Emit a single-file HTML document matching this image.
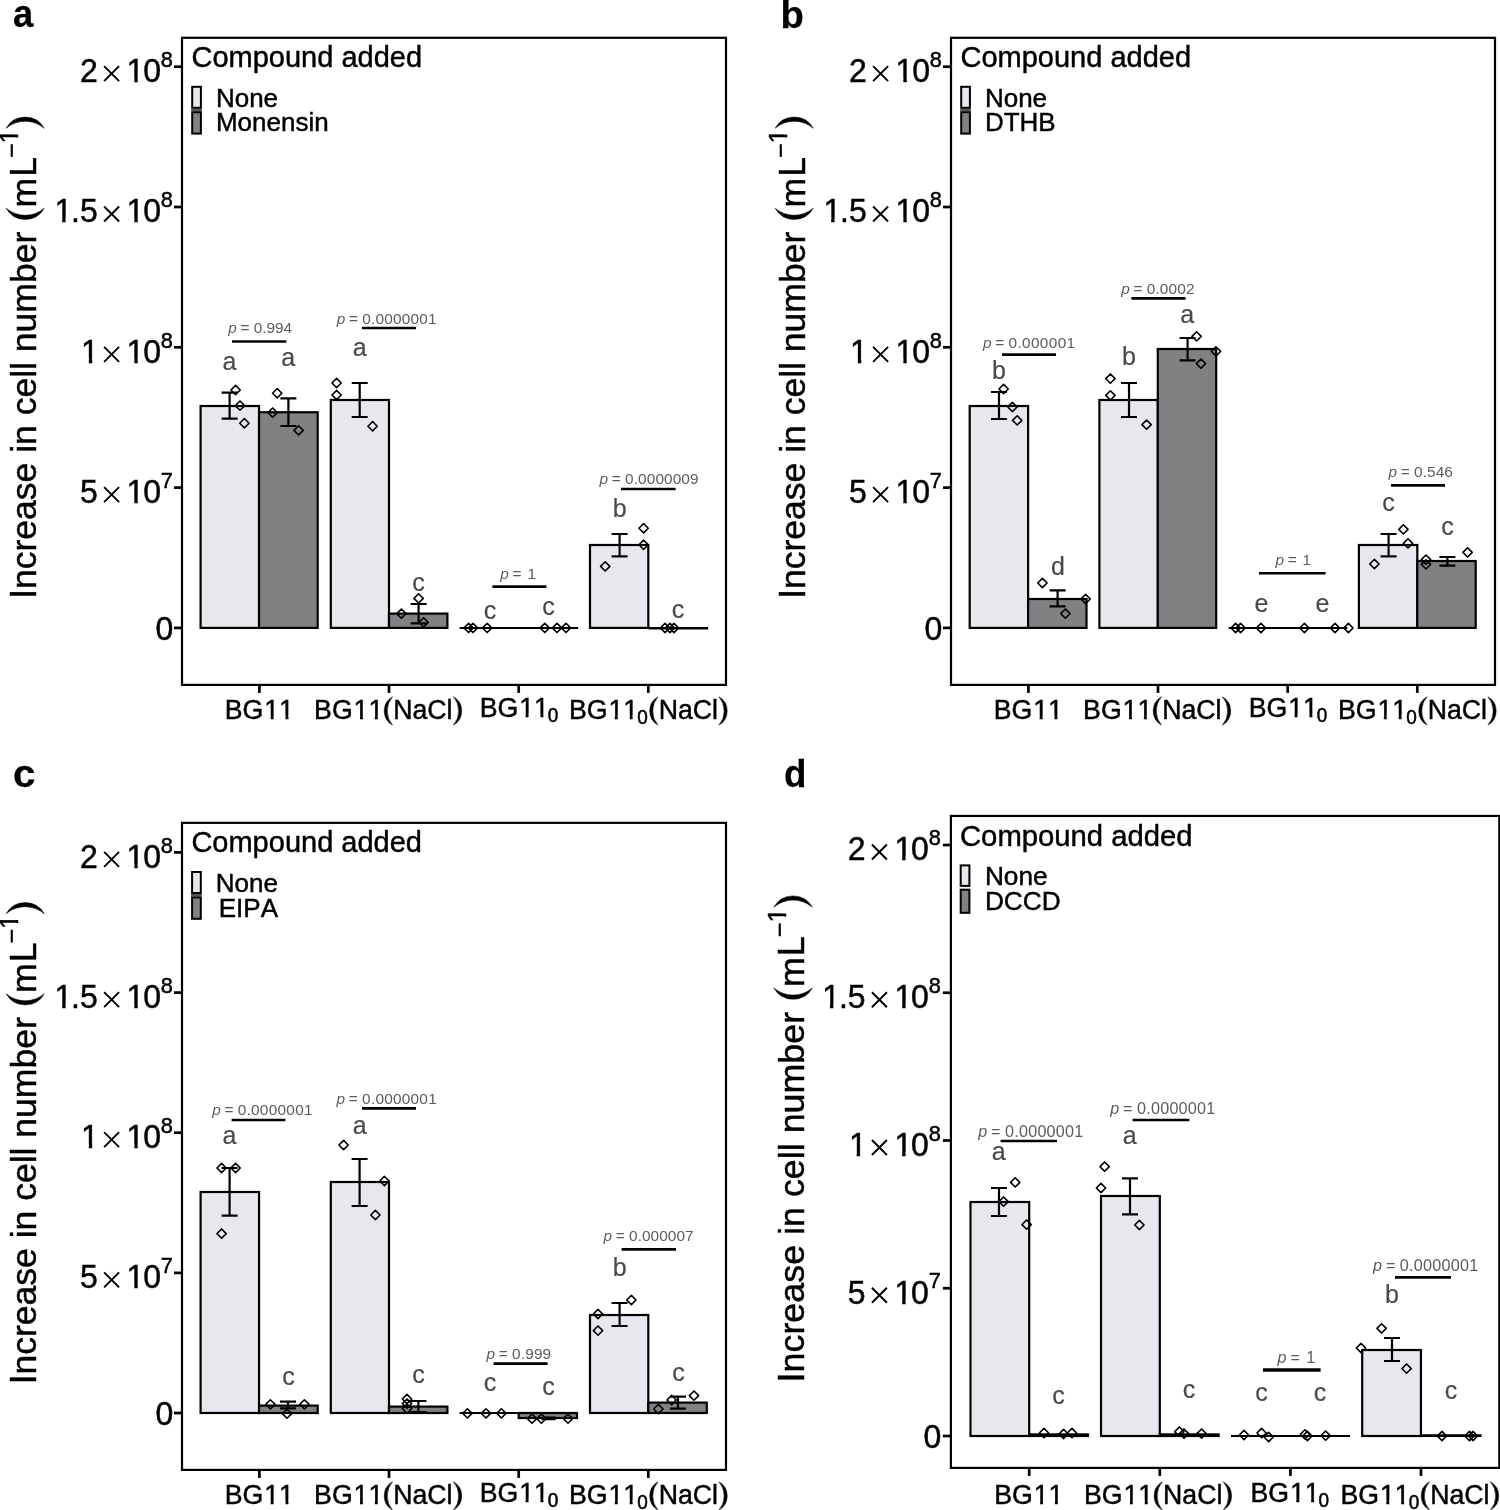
<!DOCTYPE html>
<html><head><meta charset="utf-8"><title>Figure</title>
<style>html,body{margin:0;padding:0;background:#fff}svg{display:block;will-change:transform}text{font-family:"Liberation Sans",sans-serif;font-kerning:none}</style>
</head><body>
<svg width="1500" height="1510" viewBox="0 0 1500 1510" font-family="Liberation Sans, sans-serif">
<rect width="1500" height="1510" fill="#fff"/>
<g>
<text transform="translate(13 27.2) scale(0.95 1)" font-size="38.3" font-weight="bold" stroke="#000" stroke-width="0.25">a</text>
<g transform="translate(36 598.8) rotate(-90)">
<text transform="translate(0 0) scale(1 1.05)" font-size="35.5" stroke="#000" stroke-width="0.45">I</text>
<text x="9.86" y="0" font-size="35.5" stroke="#000" stroke-width="0.45">ncrease in cell number</text>
<path d="M390.59 -29.9A21.89 21.89 0 0 0 390.59 8.3A29.34 29.34 0 0 1 390.59 -29.9Z" stroke="#000" stroke-width="0.5" stroke-linejoin="round"/>
<text x="391.4" y="0" font-size="35.5" stroke="#000" stroke-width="0.45">m</text>
<text transform="translate(422 0) scale(1 1.05)" font-size="35.5" stroke="#000" stroke-width="0.45">L</text>
<text x="441" y="-15.8" font-size="25" stroke="#000" stroke-width="0.45">−</text>
<text x="455.27" y="-17.6" font-size="25.5" stroke="#000" stroke-width="0.45">1</text>
<path d="M456.51 -15.8h4.87v-5.11h-4.87zM464.23 -15.8h4.98v-5.11h-4.98z" fill="#fff"/>
<path d="M470.5 -29.9A21.89 21.89 0 0 1 470.5 8.3A29.34 29.34 0 0 0 470.5 -29.9Z" stroke="#000" stroke-width="0.5" stroke-linejoin="round"/>
</g>
<text transform="translate(80 82.1) scale(1 1.035)" font-size="32" stroke="#000" stroke-width="0.45">2</text>
<path d="M104.1 66.2L119.1 81.2M104.1 81.2L119.1 66.2" stroke="#000" stroke-width="1.9" fill="none"/>
<text transform="translate(126.59 82.1) scale(1 1.035)" font-size="32" stroke="#000" stroke-width="0.45">1</text>
<path d="M128.15 83.9h6.18v-5.67h-6.18zM137.76 83.9h6.25v-5.67h-6.25z" fill="#fff"/>
<text transform="translate(143.3 82.1) scale(1 1.035)" font-size="32" stroke="#000" stroke-width="0.45">0</text>
<text transform="translate(173 66.9) scale(1 1.035)" font-size="21.8" text-anchor="end" stroke="#000" stroke-width="0.45">8</text>
<text transform="translate(54.4 222.4) scale(1 1.035)" font-size="32" stroke="#000" stroke-width="0.45">1</text>
<path d="M55.97 224.2h6.18v-5.67h-6.18zM65.58 224.2h6.25v-5.67h-6.25z" fill="#fff"/>
<text transform="translate(71.11 222.4) scale(1 1.035)" font-size="32" stroke="#000" stroke-width="0.45">.5</text>
<path d="M104.1 206.5L119.1 221.5M104.1 221.5L119.1 206.5" stroke="#000" stroke-width="1.9" fill="none"/>
<text transform="translate(126.59 222.4) scale(1 1.035)" font-size="32" stroke="#000" stroke-width="0.45">1</text>
<path d="M128.15 224.2h6.18v-5.67h-6.18zM137.76 224.2h6.25v-5.67h-6.25z" fill="#fff"/>
<text transform="translate(143.3 222.4) scale(1 1.035)" font-size="32" stroke="#000" stroke-width="0.45">0</text>
<text transform="translate(173 207.2) scale(1 1.035)" font-size="21.8" text-anchor="end" stroke="#000" stroke-width="0.45">8</text>
<text transform="translate(81.09 362.7) scale(1 1.035)" font-size="32" stroke="#000" stroke-width="0.45">1</text>
<path d="M82.65 364.5h6.18v-5.67h-6.18zM92.27 364.5h6.25v-5.67h-6.25z" fill="#fff"/>
<path d="M104.1 346.8L119.1 361.8M104.1 361.8L119.1 346.8" stroke="#000" stroke-width="1.9" fill="none"/>
<text transform="translate(126.59 362.7) scale(1 1.035)" font-size="32" stroke="#000" stroke-width="0.45">1</text>
<path d="M128.15 364.5h6.18v-5.67h-6.18zM137.76 364.5h6.25v-5.67h-6.25z" fill="#fff"/>
<text transform="translate(143.3 362.7) scale(1 1.035)" font-size="32" stroke="#000" stroke-width="0.45">0</text>
<text transform="translate(173 347.5) scale(1 1.035)" font-size="21.8" text-anchor="end" stroke="#000" stroke-width="0.45">8</text>
<text transform="translate(80 503) scale(1 1.035)" font-size="32" stroke="#000" stroke-width="0.45">5</text>
<path d="M104.1 487.1L119.1 502.1M104.1 502.1L119.1 487.1" stroke="#000" stroke-width="1.9" fill="none"/>
<text transform="translate(126.59 503) scale(1 1.035)" font-size="32" stroke="#000" stroke-width="0.45">1</text>
<path d="M128.15 504.8h6.18v-5.67h-6.18zM137.76 504.8h6.25v-5.67h-6.25z" fill="#fff"/>
<text transform="translate(143.3 503) scale(1 1.035)" font-size="32" stroke="#000" stroke-width="0.45">0</text>
<text transform="translate(173 487.8) scale(1 1.035)" font-size="21.8" text-anchor="end" stroke="#000" stroke-width="0.45">7</text>
<text transform="translate(173.4 639.5) scale(1 1.035)" font-size="32" text-anchor="end" stroke="#000" stroke-width="0.45">0</text>
<rect x="200.6" y="406" width="58.45" height="221.9" fill="#e8e7ee" stroke="#000" stroke-width="2.2"/>
<rect x="259.05" y="412.25" width="58.65" height="215.65" fill="#808183" stroke="#000" stroke-width="2.2"/>
<rect x="330.8" y="400" width="58.2" height="227.9" fill="#e8e7ee" stroke="#000" stroke-width="2.2"/>
<rect x="389" y="613.6" width="58.4" height="14.3" fill="#808183" stroke="#000" stroke-width="2.2"/>
<rect x="590" y="545" width="58.3" height="82.9" fill="#e8e7ee" stroke="#000" stroke-width="2.2"/>
<line x1="459.6" y1="627.9" x2="578.2" y2="627.9" stroke="#000" stroke-width="2"/>
<line x1="648.6" y1="628.2" x2="708.2" y2="628.2" stroke="#000" stroke-width="2.6"/>
<path d="M221.6 392.6H237.6M221.6 418.6H237.6M229.6 392.6V418.6" fill="none" stroke="#000" stroke-width="2.2"/>
<path d="M280.4 398.4H296.4M280.4 426H296.4M288.4 398.4V426" fill="none" stroke="#000" stroke-width="2.2"/>
<path d="M351.7 383H367.7M351.7 417H367.7M359.7 383V417" fill="none" stroke="#000" stroke-width="2.2"/>
<path d="M410.6 604H426.6M410.6 623.4H426.6M418.6 604V623.4" fill="none" stroke="#000" stroke-width="2.2"/>
<path d="M611.6 534H627.6M611.6 556.4H627.6M619.6 534V556.4" fill="none" stroke="#000" stroke-width="2.2"/>
<path d="M235.6 385.35L240.25 390L235.6 394.65L230.95 390Z" fill="none" stroke="#000" stroke-width="1.6" stroke-linejoin="round"/>
<path d="M240 400.95L244.65 405.6L240 410.25L235.35 405.6Z" fill="none" stroke="#000" stroke-width="1.6" stroke-linejoin="round"/>
<path d="M244.4 418.55L249.05 423.2L244.4 427.85L239.75 423.2Z" fill="none" stroke="#000" stroke-width="1.6" stroke-linejoin="round"/>
<path d="M277.2 388.55L281.85 393.2L277.2 397.85L272.55 393.2Z" fill="none" stroke="#000" stroke-width="1.6" stroke-linejoin="round"/>
<path d="M272.6 407.95L277.25 412.6L272.6 417.25L267.95 412.6Z" fill="none" stroke="#000" stroke-width="1.6" stroke-linejoin="round"/>
<path d="M298.6 425.75L303.25 430.4L298.6 435.05L293.95 430.4Z" fill="none" stroke="#000" stroke-width="1.6" stroke-linejoin="round"/>
<path d="M336.6 378.35L341.25 383L336.6 387.65L331.95 383Z" fill="none" stroke="#000" stroke-width="1.6" stroke-linejoin="round"/>
<path d="M336.6 390.35L341.25 395L336.6 399.65L331.95 395Z" fill="none" stroke="#000" stroke-width="1.6" stroke-linejoin="round"/>
<path d="M372.6 421.55L377.25 426.2L372.6 430.85L367.95 426.2Z" fill="none" stroke="#000" stroke-width="1.6" stroke-linejoin="round"/>
<path d="M401.4 608.95L406.05 613.6L401.4 618.25L396.75 613.6Z" fill="none" stroke="#000" stroke-width="1.6" stroke-linejoin="round"/>
<path d="M418.6 593.75L423.25 598.4L418.6 603.05L413.95 598.4Z" fill="none" stroke="#000" stroke-width="1.6" stroke-linejoin="round"/>
<path d="M423.6 617.75L428.25 622.4L423.6 627.05L418.95 622.4Z" fill="none" stroke="#000" stroke-width="1.6" stroke-linejoin="round"/>
<path d="M468.6 623.25L473.25 627.9L468.6 632.55L463.95 627.9Z" fill="none" stroke="#000" stroke-width="1.6" stroke-linejoin="round"/>
<path d="M473 623.25L477.65 627.9L473 632.55L468.35 627.9Z" fill="none" stroke="#000" stroke-width="1.6" stroke-linejoin="round"/>
<path d="M487.2 623.25L491.85 627.9L487.2 632.55L482.55 627.9Z" fill="none" stroke="#000" stroke-width="1.6" stroke-linejoin="round"/>
<path d="M544.8 623.25L549.45 627.9L544.8 632.55L540.15 627.9Z" fill="none" stroke="#000" stroke-width="1.6" stroke-linejoin="round"/>
<path d="M557 623.25L561.65 627.9L557 632.55L552.35 627.9Z" fill="none" stroke="#000" stroke-width="1.6" stroke-linejoin="round"/>
<path d="M566 623.25L570.65 627.9L566 632.55L561.35 627.9Z" fill="none" stroke="#000" stroke-width="1.6" stroke-linejoin="round"/>
<path d="M643.6 523.55L648.25 528.2L643.6 532.85L638.95 528.2Z" fill="none" stroke="#000" stroke-width="1.6" stroke-linejoin="round"/>
<path d="M643.6 540.15L648.25 544.8L643.6 549.45L638.95 544.8Z" fill="none" stroke="#000" stroke-width="1.6" stroke-linejoin="round"/>
<path d="M605.2 561.75L609.85 566.4L605.2 571.05L600.55 566.4Z" fill="none" stroke="#000" stroke-width="1.6" stroke-linejoin="round"/>
<path d="M665 623.35L669.65 628L665 632.65L660.35 628Z" fill="none" stroke="#000" stroke-width="1.6" stroke-linejoin="round"/>
<path d="M670 623.35L674.65 628L670 632.65L665.35 628Z" fill="none" stroke="#000" stroke-width="1.6" stroke-linejoin="round"/>
<path d="M674 623.35L678.65 628L674 632.65L669.35 628Z" fill="none" stroke="#000" stroke-width="1.6" stroke-linejoin="round"/>
<text x="229.5" y="370.3" font-size="25" text-anchor="middle" fill="#4a4a4a" stroke="#4a4a4a" stroke-width="0.2">a</text>
<text x="288.2" y="366.4" font-size="25" text-anchor="middle" fill="#4a4a4a" stroke="#4a4a4a" stroke-width="0.2">a</text>
<text x="359.6" y="355.5" font-size="25" text-anchor="middle" fill="#4a4a4a" stroke="#4a4a4a" stroke-width="0.2">a</text>
<text x="418.6" y="591.3" font-size="25" text-anchor="middle" fill="#4a4a4a" stroke="#4a4a4a" stroke-width="0.2">c</text>
<text x="490" y="618.9" font-size="25" text-anchor="middle" fill="#4a4a4a" stroke="#4a4a4a" stroke-width="0.2">c</text>
<text x="548.4" y="614.9" font-size="25" text-anchor="middle" fill="#4a4a4a" stroke="#4a4a4a" stroke-width="0.2">c</text>
<text x="619.6" y="516.9" font-size="25" text-anchor="middle" fill="#4a4a4a" stroke="#4a4a4a" stroke-width="0.2">b</text>
<text x="678" y="617.9" font-size="25" text-anchor="middle" fill="#4a4a4a" stroke="#4a4a4a" stroke-width="0.2">c</text>
<text y="333" font-size="15.4" fill="#5c5c5c"><tspan x="228.28" font-style="italic">p</tspan><tspan x="240.55">=</tspan>
<tspan x="253.8" textLength="38.25" lengthAdjust="spacing">0.994</tspan></text>
<text y="323.7" font-size="15.4" fill="#5c5c5c"><tspan x="336.68" font-style="italic">p</tspan><tspan x="348.95">=</tspan>
<tspan x="362.2" textLength="74.43" lengthAdjust="spacing">0.0000001</tspan></text>
<text y="579.4" font-size="15.4" fill="#5c5c5c"><tspan x="500.18" font-style="italic">p</tspan><tspan x="512.45">=</tspan>
<tspan x="527.57">1</tspan></text>
<text y="483.6" font-size="15.4" fill="#5c5c5c"><tspan x="599.58" font-style="italic">p</tspan><tspan x="611.85">=</tspan>
<tspan x="625.1" textLength="73.43" lengthAdjust="spacing">0.0000009</tspan></text>
<line x1="232" y1="341.5" x2="286.3" y2="341.5" stroke="#000" stroke-width="2.6"/>
<line x1="361.9" y1="328" x2="416" y2="328" stroke="#000" stroke-width="2.6"/>
<line x1="492.4" y1="586.6" x2="546.4" y2="586.6" stroke="#000" stroke-width="2.6"/>
<line x1="621" y1="489" x2="675.6" y2="489" stroke="#000" stroke-width="2.6"/>
<rect x="182" y="37.8" width="544" height="647.1" fill="none" stroke="#000" stroke-width="2.2"/>
<line x1="174" y1="66.7" x2="182" y2="66.7" stroke="#000" stroke-width="2.7"/>
<line x1="174" y1="207" x2="182" y2="207" stroke="#000" stroke-width="2.7"/>
<line x1="174" y1="347.3" x2="182" y2="347.3" stroke="#000" stroke-width="2.7"/>
<line x1="174" y1="487.6" x2="182" y2="487.6" stroke="#000" stroke-width="2.7"/>
<line x1="174" y1="627.9" x2="182" y2="627.9" stroke="#000" stroke-width="2.7"/>
<line x1="259.4" y1="684.9" x2="259.4" y2="692.9" stroke="#000" stroke-width="2.7"/>
<line x1="389" y1="684.9" x2="389" y2="692.9" stroke="#000" stroke-width="2.7"/>
<line x1="518.7" y1="684.9" x2="518.7" y2="692.9" stroke="#000" stroke-width="2.7"/>
<line x1="648.3" y1="684.9" x2="648.3" y2="692.9" stroke="#000" stroke-width="2.7"/>
<text x="191.5" y="67.2" font-size="29" stroke="#000" stroke-width="0.45">Compound added</text>
<rect x="191.2" y="108.7" width="10.7" height="2.6" fill="#555"/>
<rect x="192.2" y="86.8" width="8.7" height="21" fill="#e8e7ee" stroke="#000" stroke-width="2"/>
<rect x="192.2" y="112.2" width="8.7" height="21.4" fill="#808183" stroke="#000" stroke-width="2"/>
<text x="215.9" y="106.7" font-size="26" stroke="#000" stroke-width="0.45">None</text>
<text x="215.9" y="131.3" font-size="26" stroke="#000" stroke-width="0.45">Monensin</text>
<text transform="translate(224.76 719.3) scale(1 1.04)" font-size="26.7" stroke="#000" stroke-width="0.45">BG</text>
<text transform="translate(264.25 719.3) scale(1 1.04)" font-size="26.7" stroke="#000" stroke-width="0.45">1</text>
<path d="M265.55 721.1h5.11v-5.27h-5.11zM273.62 721.1h5.21v-5.27h-5.21z" fill="#fff"/>
<text transform="translate(279.1 719.3) scale(1 1.04)" font-size="26.7" stroke="#000" stroke-width="0.45">1</text>
<path d="M280.4 721.1h5.11v-5.27h-5.11zM288.47 721.1h5.21v-5.27h-5.21z" fill="#fff"/>
<text transform="translate(314.1 718.5) scale(1 1.04)" font-size="26.7" stroke="#000" stroke-width="0.45">BG</text>
<text transform="translate(353.58 718.5) scale(1 1.04)" font-size="26.7" stroke="#000" stroke-width="0.45">1</text>
<path d="M354.89 720.3h5.11v-5.27h-5.11zM362.96 720.3h5.21v-5.27h-5.21z" fill="#fff"/>
<text transform="translate(368.43 718.5) scale(1 1.04)" font-size="26.7" stroke="#000" stroke-width="0.45">1</text>
<path d="M369.74 720.3h5.11v-5.27h-5.11zM377.81 720.3h5.21v-5.27h-5.21z" fill="#fff"/>
<path d="M392.52 696.7A16.28 16.28 0 0 0 392.52 725.1A21.82 21.82 0 0 1 392.52 696.7Z" stroke="#000" stroke-width="0.5" stroke-linejoin="round"/>
<text transform="translate(393.2 718.5) scale(1 1.04)" font-size="26.7" stroke="#000" stroke-width="0.45">NaCl</text>
<path d="M453.4 696.7A16.28 16.28 0 0 1 453.4 725.1A21.82 21.82 0 0 0 453.4 696.7Z" stroke="#000" stroke-width="0.5" stroke-linejoin="round"/>
<text transform="translate(479.7 717.4) scale(1 1.04)" font-size="26.7" stroke="#000" stroke-width="0.45">BG</text>
<text transform="translate(519.18 717.4) scale(1 1.04)" font-size="26.7" stroke="#000" stroke-width="0.45">1</text>
<path d="M520.49 719.2h5.11v-5.27h-5.11zM528.56 719.2h5.21v-5.27h-5.21z" fill="#fff"/>
<text transform="translate(534.03 717.4) scale(1 1.04)" font-size="26.7" stroke="#000" stroke-width="0.45">1</text>
<path d="M535.34 719.2h5.11v-5.27h-5.11zM543.41 719.2h5.21v-5.27h-5.21z" fill="#fff"/>
<text transform="translate(547.7 722.4) scale(1 1.04)" font-size="19" stroke="#000" stroke-width="0.45">0</text>
<text transform="translate(568.9 718.5) scale(1 1.04)" font-size="26.7" stroke="#000" stroke-width="0.45">BG</text>
<text transform="translate(608.38 718.5) scale(1 1.04)" font-size="26.7" stroke="#000" stroke-width="0.45">1</text>
<path d="M609.69 720.3h5.11v-5.27h-5.11zM617.76 720.3h5.21v-5.27h-5.21z" fill="#fff"/>
<text transform="translate(623.23 718.5) scale(1 1.04)" font-size="26.7" stroke="#000" stroke-width="0.45">1</text>
<path d="M624.54 720.3h5.11v-5.27h-5.11zM632.61 720.3h5.21v-5.27h-5.21z" fill="#fff"/>
<text transform="translate(637.3 723.5) scale(1 1.04)" font-size="19" stroke="#000" stroke-width="0.45">0</text>
<path d="M658.02 696.7A16.28 16.28 0 0 0 658.02 725.1A21.82 21.82 0 0 1 658.02 696.7Z" stroke="#000" stroke-width="0.5" stroke-linejoin="round"/>
<text transform="translate(658.7 718.5) scale(1 1.04)" font-size="26.7" stroke="#000" stroke-width="0.45">NaCl</text>
<path d="M718.9 696.7A16.28 16.28 0 0 1 718.9 725.1A21.82 21.82 0 0 0 718.9 696.7Z" stroke="#000" stroke-width="0.5" stroke-linejoin="round"/>
</g>
<g>
<text x="780.6" y="27.5" font-size="38.3" font-weight="bold" stroke="#000" stroke-width="0.25">b</text>
<g transform="translate(805 598.8) rotate(-90)">
<text transform="translate(0 0) scale(1 1.05)" font-size="35.5" stroke="#000" stroke-width="0.45">I</text>
<text x="9.86" y="0" font-size="35.5" stroke="#000" stroke-width="0.45">ncrease in cell number</text>
<path d="M390.59 -29.9A21.89 21.89 0 0 0 390.59 8.3A29.34 29.34 0 0 1 390.59 -29.9Z" stroke="#000" stroke-width="0.5" stroke-linejoin="round"/>
<text x="391.4" y="0" font-size="35.5" stroke="#000" stroke-width="0.45">m</text>
<text transform="translate(422 0) scale(1 1.05)" font-size="35.5" stroke="#000" stroke-width="0.45">L</text>
<text x="441" y="-15.8" font-size="25" stroke="#000" stroke-width="0.45">−</text>
<text x="455.27" y="-17.6" font-size="25.5" stroke="#000" stroke-width="0.45">1</text>
<path d="M456.51 -15.8h4.87v-5.11h-4.87zM464.23 -15.8h4.98v-5.11h-4.98z" fill="#fff"/>
<path d="M470.5 -29.9A21.89 21.89 0 0 1 470.5 8.3A29.34 29.34 0 0 0 470.5 -29.9Z" stroke="#000" stroke-width="0.5" stroke-linejoin="round"/>
</g>
<text transform="translate(849 82.1) scale(1 1.035)" font-size="32" stroke="#000" stroke-width="0.45">2</text>
<path d="M873.1 66.2L888.1 81.2M873.1 81.2L888.1 66.2" stroke="#000" stroke-width="1.9" fill="none"/>
<text transform="translate(895.59 82.1) scale(1 1.035)" font-size="32" stroke="#000" stroke-width="0.45">1</text>
<path d="M897.15 83.9h6.18v-5.67h-6.18zM906.76 83.9h6.25v-5.67h-6.25z" fill="#fff"/>
<text transform="translate(912.3 82.1) scale(1 1.035)" font-size="32" stroke="#000" stroke-width="0.45">0</text>
<text transform="translate(942 66.9) scale(1 1.035)" font-size="21.8" text-anchor="end" stroke="#000" stroke-width="0.45">8</text>
<text transform="translate(823.4 222.4) scale(1 1.035)" font-size="32" stroke="#000" stroke-width="0.45">1</text>
<path d="M824.97 224.2h6.18v-5.67h-6.18zM834.58 224.2h6.25v-5.67h-6.25z" fill="#fff"/>
<text transform="translate(840.11 222.4) scale(1 1.035)" font-size="32" stroke="#000" stroke-width="0.45">.5</text>
<path d="M873.1 206.5L888.1 221.5M873.1 221.5L888.1 206.5" stroke="#000" stroke-width="1.9" fill="none"/>
<text transform="translate(895.59 222.4) scale(1 1.035)" font-size="32" stroke="#000" stroke-width="0.45">1</text>
<path d="M897.15 224.2h6.18v-5.67h-6.18zM906.76 224.2h6.25v-5.67h-6.25z" fill="#fff"/>
<text transform="translate(912.3 222.4) scale(1 1.035)" font-size="32" stroke="#000" stroke-width="0.45">0</text>
<text transform="translate(942 207.2) scale(1 1.035)" font-size="21.8" text-anchor="end" stroke="#000" stroke-width="0.45">8</text>
<text transform="translate(850.09 362.7) scale(1 1.035)" font-size="32" stroke="#000" stroke-width="0.45">1</text>
<path d="M851.65 364.5h6.18v-5.67h-6.18zM861.27 364.5h6.25v-5.67h-6.25z" fill="#fff"/>
<path d="M873.1 346.8L888.1 361.8M873.1 361.8L888.1 346.8" stroke="#000" stroke-width="1.9" fill="none"/>
<text transform="translate(895.59 362.7) scale(1 1.035)" font-size="32" stroke="#000" stroke-width="0.45">1</text>
<path d="M897.15 364.5h6.18v-5.67h-6.18zM906.76 364.5h6.25v-5.67h-6.25z" fill="#fff"/>
<text transform="translate(912.3 362.7) scale(1 1.035)" font-size="32" stroke="#000" stroke-width="0.45">0</text>
<text transform="translate(942 347.5) scale(1 1.035)" font-size="21.8" text-anchor="end" stroke="#000" stroke-width="0.45">8</text>
<text transform="translate(849 503) scale(1 1.035)" font-size="32" stroke="#000" stroke-width="0.45">5</text>
<path d="M873.1 487.1L888.1 502.1M873.1 502.1L888.1 487.1" stroke="#000" stroke-width="1.9" fill="none"/>
<text transform="translate(895.59 503) scale(1 1.035)" font-size="32" stroke="#000" stroke-width="0.45">1</text>
<path d="M897.15 504.8h6.18v-5.67h-6.18zM906.76 504.8h6.25v-5.67h-6.25z" fill="#fff"/>
<text transform="translate(912.3 503) scale(1 1.035)" font-size="32" stroke="#000" stroke-width="0.45">0</text>
<text transform="translate(942 487.8) scale(1 1.035)" font-size="21.8" text-anchor="end" stroke="#000" stroke-width="0.45">7</text>
<text transform="translate(942.4 639.5) scale(1 1.035)" font-size="32" text-anchor="end" stroke="#000" stroke-width="0.45">0</text>
<rect x="969.7" y="406" width="58.4" height="221.9" fill="#e8e7ee" stroke="#000" stroke-width="2.2"/>
<rect x="1028.1" y="599" width="58.4" height="28.9" fill="#808183" stroke="#000" stroke-width="2.2"/>
<rect x="1099.4" y="400" width="58.4" height="227.9" fill="#e8e7ee" stroke="#000" stroke-width="2.2"/>
<rect x="1157.8" y="349" width="58.4" height="278.9" fill="#808183" stroke="#000" stroke-width="2.2"/>
<rect x="1358.9" y="545" width="58.4" height="82.9" fill="#e8e7ee" stroke="#000" stroke-width="2.2"/>
<rect x="1417.3" y="561" width="58.4" height="66.9" fill="#808183" stroke="#000" stroke-width="2.2"/>
<line x1="1228.6" y1="627.9" x2="1347.4" y2="627.9" stroke="#000" stroke-width="2"/>
<path d="M991 392H1007M991 419H1007M999 392V419" fill="none" stroke="#000" stroke-width="2.2"/>
<path d="M1049.6 590.4H1065.6M1049.6 606.4H1065.6M1057.6 590.4V606.4" fill="none" stroke="#000" stroke-width="2.2"/>
<path d="M1121 383H1137M1121 417H1137M1129 383V417" fill="none" stroke="#000" stroke-width="2.2"/>
<path d="M1179.6 338H1195.6M1179.6 360.4H1195.6M1187.6 338V360.4" fill="none" stroke="#000" stroke-width="2.2"/>
<path d="M1380.6 534H1396.6M1380.6 556.4H1396.6M1388.6 534V556.4" fill="none" stroke="#000" stroke-width="2.2"/>
<path d="M1439.4 557H1455.4M1439.4 565.6H1455.4M1447.4 557V565.6" fill="none" stroke="#000" stroke-width="2.2"/>
<path d="M1003.6 384.35L1008.25 389L1003.6 393.65L998.95 389Z" fill="none" stroke="#000" stroke-width="1.6" stroke-linejoin="round"/>
<path d="M1012.4 402.35L1017.05 407L1012.4 411.65L1007.75 407Z" fill="none" stroke="#000" stroke-width="1.6" stroke-linejoin="round"/>
<path d="M1017.2 415.75L1021.85 420.4L1017.2 425.05L1012.55 420.4Z" fill="none" stroke="#000" stroke-width="1.6" stroke-linejoin="round"/>
<path d="M1042.4 578.35L1047.05 583L1042.4 587.65L1037.75 583Z" fill="none" stroke="#000" stroke-width="1.6" stroke-linejoin="round"/>
<path d="M1085.6 594.35L1090.25 599L1085.6 603.65L1080.95 599Z" fill="none" stroke="#000" stroke-width="1.6" stroke-linejoin="round"/>
<path d="M1065.4 608.95L1070.05 613.6L1065.4 618.25L1060.75 613.6Z" fill="none" stroke="#000" stroke-width="1.6" stroke-linejoin="round"/>
<path d="M1110.4 373.95L1115.05 378.6L1110.4 383.25L1105.75 378.6Z" fill="none" stroke="#000" stroke-width="1.6" stroke-linejoin="round"/>
<path d="M1110.4 390.75L1115.05 395.4L1110.4 400.05L1105.75 395.4Z" fill="none" stroke="#000" stroke-width="1.6" stroke-linejoin="round"/>
<path d="M1146.6 419.95L1151.25 424.6L1146.6 429.25L1141.95 424.6Z" fill="none" stroke="#000" stroke-width="1.6" stroke-linejoin="round"/>
<path d="M1196.6 331.75L1201.25 336.4L1196.6 341.05L1191.95 336.4Z" fill="none" stroke="#000" stroke-width="1.6" stroke-linejoin="round"/>
<path d="M1216 346.75L1220.65 351.4L1216 356.05L1211.35 351.4Z" fill="none" stroke="#000" stroke-width="1.6" stroke-linejoin="round"/>
<path d="M1201 358.95L1205.65 363.6L1201 368.25L1196.35 363.6Z" fill="none" stroke="#000" stroke-width="1.6" stroke-linejoin="round"/>
<path d="M1235.6 623.35L1240.25 628L1235.6 632.65L1230.95 628Z" fill="none" stroke="#000" stroke-width="1.6" stroke-linejoin="round"/>
<path d="M1240.6 623.35L1245.25 628L1240.6 632.65L1235.95 628Z" fill="none" stroke="#000" stroke-width="1.6" stroke-linejoin="round"/>
<path d="M1261 623.35L1265.65 628L1261 632.65L1256.35 628Z" fill="none" stroke="#000" stroke-width="1.6" stroke-linejoin="round"/>
<path d="M1304.4 623.35L1309.05 628L1304.4 632.65L1299.75 628Z" fill="none" stroke="#000" stroke-width="1.6" stroke-linejoin="round"/>
<path d="M1335 623.35L1339.65 628L1335 632.65L1330.35 628Z" fill="none" stroke="#000" stroke-width="1.6" stroke-linejoin="round"/>
<path d="M1348.4 623.35L1353.05 628L1348.4 632.65L1343.75 628Z" fill="none" stroke="#000" stroke-width="1.6" stroke-linejoin="round"/>
<path d="M1403.4 524.75L1408.05 529.4L1403.4 534.05L1398.75 529.4Z" fill="none" stroke="#000" stroke-width="1.6" stroke-linejoin="round"/>
<path d="M1408 538.75L1412.65 543.4L1408 548.05L1403.35 543.4Z" fill="none" stroke="#000" stroke-width="1.6" stroke-linejoin="round"/>
<path d="M1374.4 559.35L1379.05 564L1374.4 568.65L1369.75 564Z" fill="none" stroke="#000" stroke-width="1.6" stroke-linejoin="round"/>
<path d="M1426 554.95L1430.65 559.6L1426 564.25L1421.35 559.6Z" fill="none" stroke="#000" stroke-width="1.6" stroke-linejoin="round"/>
<path d="M1426 559.75L1430.65 564.4L1426 569.05L1421.35 564.4Z" fill="none" stroke="#000" stroke-width="1.6" stroke-linejoin="round"/>
<path d="M1467.6 547.75L1472.25 552.4L1467.6 557.05L1462.95 552.4Z" fill="none" stroke="#000" stroke-width="1.6" stroke-linejoin="round"/>
<text x="999" y="378.9" font-size="25" text-anchor="middle" fill="#4a4a4a" stroke="#4a4a4a" stroke-width="0.2">b</text>
<text x="1058" y="574.9" font-size="25" text-anchor="middle" fill="#4a4a4a" stroke="#4a4a4a" stroke-width="0.2">d</text>
<text x="1129" y="364.9" font-size="25" text-anchor="middle" fill="#4a4a4a" stroke="#4a4a4a" stroke-width="0.2">b</text>
<text x="1187.2" y="323.3" font-size="25" text-anchor="middle" fill="#4a4a4a" stroke="#4a4a4a" stroke-width="0.2">a</text>
<text x="1261.4" y="611.9" font-size="25" text-anchor="middle" fill="#4a4a4a" stroke="#4a4a4a" stroke-width="0.2">e</text>
<text x="1322.4" y="611.5" font-size="25" text-anchor="middle" fill="#4a4a4a" stroke="#4a4a4a" stroke-width="0.2">e</text>
<text x="1388.4" y="510.9" font-size="25" text-anchor="middle" fill="#4a4a4a" stroke="#4a4a4a" stroke-width="0.2">c</text>
<text x="1447.4" y="534.5" font-size="25" text-anchor="middle" fill="#4a4a4a" stroke="#4a4a4a" stroke-width="0.2">c</text>
<text y="347.6" font-size="15.4" fill="#5c5c5c"><tspan x="982.98" font-style="italic">p</tspan><tspan x="995.25">=</tspan>
<tspan x="1008.5" textLength="66.63" lengthAdjust="spacing">0.000001</tspan></text>
<text y="294" font-size="15.4" fill="#5c5c5c"><tspan x="1121.18" font-style="italic">p</tspan><tspan x="1133.45">=</tspan>
<tspan x="1146.7" textLength="47.88" lengthAdjust="spacing">0.0002</tspan></text>
<text y="565" font-size="15.4" fill="#5c5c5c"><tspan x="1275.58" font-style="italic">p</tspan><tspan x="1287.85">=</tspan>
<tspan x="1302.57">1</tspan></text>
<text y="477" font-size="15.4" fill="#5c5c5c"><tspan x="1388.58" font-style="italic">p</tspan><tspan x="1400.85">=</tspan>
<tspan x="1414.1" textLength="38.78" lengthAdjust="spacing">0.546</tspan></text>
<line x1="1002" y1="354.6" x2="1056" y2="354.6" stroke="#000" stroke-width="2.6"/>
<line x1="1131.4" y1="298.4" x2="1185.6" y2="298.4" stroke="#000" stroke-width="2.6"/>
<line x1="1259" y1="573.2" x2="1325.6" y2="573.2" stroke="#000" stroke-width="2.6"/>
<line x1="1391" y1="485.4" x2="1445" y2="485.4" stroke="#000" stroke-width="2.6"/>
<rect x="951" y="37.8" width="544" height="647.1" fill="none" stroke="#000" stroke-width="2.2"/>
<line x1="943" y1="66.7" x2="951" y2="66.7" stroke="#000" stroke-width="2.7"/>
<line x1="943" y1="207" x2="951" y2="207" stroke="#000" stroke-width="2.7"/>
<line x1="943" y1="347.3" x2="951" y2="347.3" stroke="#000" stroke-width="2.7"/>
<line x1="943" y1="487.6" x2="951" y2="487.6" stroke="#000" stroke-width="2.7"/>
<line x1="943" y1="627.9" x2="951" y2="627.9" stroke="#000" stroke-width="2.7"/>
<line x1="1028.4" y1="684.9" x2="1028.4" y2="692.9" stroke="#000" stroke-width="2.7"/>
<line x1="1158" y1="684.9" x2="1158" y2="692.9" stroke="#000" stroke-width="2.7"/>
<line x1="1287.7" y1="684.9" x2="1287.7" y2="692.9" stroke="#000" stroke-width="2.7"/>
<line x1="1417.3" y1="684.9" x2="1417.3" y2="692.9" stroke="#000" stroke-width="2.7"/>
<text x="960.5" y="67.2" font-size="29" stroke="#000" stroke-width="0.45">Compound added</text>
<rect x="960.2" y="108.7" width="10.7" height="2.6" fill="#555"/>
<rect x="961.2" y="86.8" width="8.7" height="21" fill="#e8e7ee" stroke="#000" stroke-width="2"/>
<rect x="961.2" y="112.2" width="8.7" height="21.4" fill="#808183" stroke="#000" stroke-width="2"/>
<text x="984.9" y="106.7" font-size="26" stroke="#000" stroke-width="0.45">None</text>
<text x="984.9" y="131.3" font-size="26" stroke="#000" stroke-width="0.45">DTHB</text>
<text transform="translate(993.76 719.3) scale(1 1.04)" font-size="26.7" stroke="#000" stroke-width="0.45">BG</text>
<text transform="translate(1033.25 719.3) scale(1 1.04)" font-size="26.7" stroke="#000" stroke-width="0.45">1</text>
<path d="M1034.55 721.1h5.11v-5.27h-5.11zM1042.62 721.1h5.21v-5.27h-5.21z" fill="#fff"/>
<text transform="translate(1048.1 719.3) scale(1 1.04)" font-size="26.7" stroke="#000" stroke-width="0.45">1</text>
<path d="M1049.4 721.1h5.11v-5.27h-5.11zM1057.47 721.1h5.21v-5.27h-5.21z" fill="#fff"/>
<text transform="translate(1083.1 718.5) scale(1 1.04)" font-size="26.7" stroke="#000" stroke-width="0.45">BG</text>
<text transform="translate(1122.58 718.5) scale(1 1.04)" font-size="26.7" stroke="#000" stroke-width="0.45">1</text>
<path d="M1123.89 720.3h5.11v-5.27h-5.11zM1131.96 720.3h5.21v-5.27h-5.21z" fill="#fff"/>
<text transform="translate(1137.43 718.5) scale(1 1.04)" font-size="26.7" stroke="#000" stroke-width="0.45">1</text>
<path d="M1138.74 720.3h5.11v-5.27h-5.11zM1146.81 720.3h5.21v-5.27h-5.21z" fill="#fff"/>
<path d="M1161.52 696.7A16.28 16.28 0 0 0 1161.52 725.1A21.82 21.82 0 0 1 1161.52 696.7Z" stroke="#000" stroke-width="0.5" stroke-linejoin="round"/>
<text transform="translate(1162.2 718.5) scale(1 1.04)" font-size="26.7" stroke="#000" stroke-width="0.45">NaCl</text>
<path d="M1222.4 696.7A16.28 16.28 0 0 1 1222.4 725.1A21.82 21.82 0 0 0 1222.4 696.7Z" stroke="#000" stroke-width="0.5" stroke-linejoin="round"/>
<text transform="translate(1248.7 717.4) scale(1 1.04)" font-size="26.7" stroke="#000" stroke-width="0.45">BG</text>
<text transform="translate(1288.18 717.4) scale(1 1.04)" font-size="26.7" stroke="#000" stroke-width="0.45">1</text>
<path d="M1289.49 719.2h5.11v-5.27h-5.11zM1297.56 719.2h5.21v-5.27h-5.21z" fill="#fff"/>
<text transform="translate(1303.03 717.4) scale(1 1.04)" font-size="26.7" stroke="#000" stroke-width="0.45">1</text>
<path d="M1304.34 719.2h5.11v-5.27h-5.11zM1312.41 719.2h5.21v-5.27h-5.21z" fill="#fff"/>
<text transform="translate(1316.7 722.4) scale(1 1.04)" font-size="19" stroke="#000" stroke-width="0.45">0</text>
<text transform="translate(1337.9 718.5) scale(1 1.04)" font-size="26.7" stroke="#000" stroke-width="0.45">BG</text>
<text transform="translate(1377.38 718.5) scale(1 1.04)" font-size="26.7" stroke="#000" stroke-width="0.45">1</text>
<path d="M1378.69 720.3h5.11v-5.27h-5.11zM1386.76 720.3h5.21v-5.27h-5.21z" fill="#fff"/>
<text transform="translate(1392.23 718.5) scale(1 1.04)" font-size="26.7" stroke="#000" stroke-width="0.45">1</text>
<path d="M1393.54 720.3h5.11v-5.27h-5.11zM1401.61 720.3h5.21v-5.27h-5.21z" fill="#fff"/>
<text transform="translate(1406.3 723.5) scale(1 1.04)" font-size="19" stroke="#000" stroke-width="0.45">0</text>
<path d="M1427.02 696.7A16.28 16.28 0 0 0 1427.02 725.1A21.82 21.82 0 0 1 1427.02 696.7Z" stroke="#000" stroke-width="0.5" stroke-linejoin="round"/>
<text transform="translate(1427.7 718.5) scale(1 1.04)" font-size="26.7" stroke="#000" stroke-width="0.45">NaCl</text>
<path d="M1487.9 696.7A16.28 16.28 0 0 1 1487.9 725.1A21.82 21.82 0 0 0 1487.9 696.7Z" stroke="#000" stroke-width="0.5" stroke-linejoin="round"/>
</g>
<g>
<text transform="translate(13 787.2) scale(1.05 1)" font-size="38.3" font-weight="bold" stroke="#000" stroke-width="0.25">c</text>
<g transform="translate(36 1384.3) rotate(-90)">
<text transform="translate(0 0) scale(1 1.05)" font-size="35.5" stroke="#000" stroke-width="0.45">I</text>
<text x="9.86" y="0" font-size="35.5" stroke="#000" stroke-width="0.45">ncrease in cell number</text>
<path d="M390.59 -29.9A21.89 21.89 0 0 0 390.59 8.3A29.34 29.34 0 0 1 390.59 -29.9Z" stroke="#000" stroke-width="0.5" stroke-linejoin="round"/>
<text x="391.4" y="0" font-size="35.5" stroke="#000" stroke-width="0.45">m</text>
<text transform="translate(422 0) scale(1 1.05)" font-size="35.5" stroke="#000" stroke-width="0.45">L</text>
<text x="441" y="-15.8" font-size="25" stroke="#000" stroke-width="0.45">−</text>
<text x="455.27" y="-17.6" font-size="25.5" stroke="#000" stroke-width="0.45">1</text>
<path d="M456.51 -15.8h4.87v-5.11h-4.87zM464.23 -15.8h4.98v-5.11h-4.98z" fill="#fff"/>
<path d="M470.5 -29.9A21.89 21.89 0 0 1 470.5 8.3A29.34 29.34 0 0 0 470.5 -29.9Z" stroke="#000" stroke-width="0.5" stroke-linejoin="round"/>
</g>
<text transform="translate(80 867.8) scale(1 1.035)" font-size="32" stroke="#000" stroke-width="0.45">2</text>
<path d="M104.1 851.9L119.1 866.9M104.1 866.9L119.1 851.9" stroke="#000" stroke-width="1.9" fill="none"/>
<text transform="translate(126.59 867.8) scale(1 1.035)" font-size="32" stroke="#000" stroke-width="0.45">1</text>
<path d="M128.15 869.6h6.18v-5.67h-6.18zM137.76 869.6h6.25v-5.67h-6.25z" fill="#fff"/>
<text transform="translate(143.3 867.8) scale(1 1.035)" font-size="32" stroke="#000" stroke-width="0.45">0</text>
<text transform="translate(173 852.6) scale(1 1.035)" font-size="21.8" text-anchor="end" stroke="#000" stroke-width="0.45">8</text>
<text transform="translate(54.4 1008) scale(1 1.035)" font-size="32" stroke="#000" stroke-width="0.45">1</text>
<path d="M55.97 1009.8h6.18v-5.67h-6.18zM65.58 1009.8h6.25v-5.67h-6.25z" fill="#fff"/>
<text transform="translate(71.11 1008) scale(1 1.035)" font-size="32" stroke="#000" stroke-width="0.45">.5</text>
<path d="M104.1 992.1L119.1 1007.1M104.1 1007.1L119.1 992.1" stroke="#000" stroke-width="1.9" fill="none"/>
<text transform="translate(126.59 1008) scale(1 1.035)" font-size="32" stroke="#000" stroke-width="0.45">1</text>
<path d="M128.15 1009.8h6.18v-5.67h-6.18zM137.76 1009.8h6.25v-5.67h-6.25z" fill="#fff"/>
<text transform="translate(143.3 1008) scale(1 1.035)" font-size="32" stroke="#000" stroke-width="0.45">0</text>
<text transform="translate(173 992.8) scale(1 1.035)" font-size="21.8" text-anchor="end" stroke="#000" stroke-width="0.45">8</text>
<text transform="translate(81.09 1148.1) scale(1 1.035)" font-size="32" stroke="#000" stroke-width="0.45">1</text>
<path d="M82.65 1149.9h6.18v-5.67h-6.18zM92.27 1149.9h6.25v-5.67h-6.25z" fill="#fff"/>
<path d="M104.1 1132.2L119.1 1147.2M104.1 1147.2L119.1 1132.2" stroke="#000" stroke-width="1.9" fill="none"/>
<text transform="translate(126.59 1148.1) scale(1 1.035)" font-size="32" stroke="#000" stroke-width="0.45">1</text>
<path d="M128.15 1149.9h6.18v-5.67h-6.18zM137.76 1149.9h6.25v-5.67h-6.25z" fill="#fff"/>
<text transform="translate(143.3 1148.1) scale(1 1.035)" font-size="32" stroke="#000" stroke-width="0.45">0</text>
<text transform="translate(173 1132.9) scale(1 1.035)" font-size="21.8" text-anchor="end" stroke="#000" stroke-width="0.45">8</text>
<text transform="translate(80 1288.3) scale(1 1.035)" font-size="32" stroke="#000" stroke-width="0.45">5</text>
<path d="M104.1 1272.4L119.1 1287.4M104.1 1287.4L119.1 1272.4" stroke="#000" stroke-width="1.9" fill="none"/>
<text transform="translate(126.59 1288.3) scale(1 1.035)" font-size="32" stroke="#000" stroke-width="0.45">1</text>
<path d="M128.15 1290.1h6.18v-5.67h-6.18zM137.76 1290.1h6.25v-5.67h-6.25z" fill="#fff"/>
<text transform="translate(143.3 1288.3) scale(1 1.035)" font-size="32" stroke="#000" stroke-width="0.45">0</text>
<text transform="translate(173 1273.1) scale(1 1.035)" font-size="21.8" text-anchor="end" stroke="#000" stroke-width="0.45">7</text>
<text transform="translate(173.4 1424.6) scale(1 1.035)" font-size="32" text-anchor="end" stroke="#000" stroke-width="0.45">0</text>
<rect x="200.6" y="1192" width="58.45" height="221" fill="#e8e7ee" stroke="#000" stroke-width="2.2"/>
<rect x="259.05" y="1405.6" width="58.65" height="7.4" fill="#808183" stroke="#000" stroke-width="2.2"/>
<rect x="330.8" y="1182" width="58.2" height="231" fill="#e8e7ee" stroke="#000" stroke-width="2.2"/>
<rect x="389" y="1406.6" width="58.4" height="6.4" fill="#808183" stroke="#000" stroke-width="2.2"/>
<rect x="518.7" y="1413" width="58.3" height="5" fill="#808183" stroke="#000" stroke-width="2.2"/>
<rect x="590" y="1315" width="58.3" height="98" fill="#e8e7ee" stroke="#000" stroke-width="2.2"/>
<rect x="648.3" y="1402.6" width="58.5" height="10.4" fill="#808183" stroke="#000" stroke-width="2.2"/>
<line x1="459.6" y1="1413" x2="519" y2="1413" stroke="#000" stroke-width="2"/>
<path d="M221.6 1168H237.6M221.6 1215.6H237.6M229.6 1168V1215.6" fill="none" stroke="#000" stroke-width="2.2"/>
<path d="M280 1401.6H296M280 1408.4H296M288 1401.6V1408.4" fill="none" stroke="#000" stroke-width="2.2"/>
<path d="M351.6 1159H367.6M351.6 1206H367.6M359.6 1159V1206" fill="none" stroke="#000" stroke-width="2.2"/>
<path d="M410.4 1401H426.4M410.4 1412H426.4M418.4 1401V1412" fill="none" stroke="#000" stroke-width="2.2"/>
<path d="M541.5 1417.6H555.5M541.5 1419.2H555.5M548.5 1417.6V1419.2" fill="none" stroke="#000" stroke-width="2.2"/>
<path d="M611.6 1303H627.6M611.6 1326H627.6M619.6 1303V1326" fill="none" stroke="#000" stroke-width="2.2"/>
<path d="M670 1396.6H686M670 1408.6H686M678 1396.6V1408.6" fill="none" stroke="#000" stroke-width="2.2"/>
<path d="M221.6 1163.35L226.25 1168L221.6 1172.65L216.95 1168Z" fill="none" stroke="#000" stroke-width="1.6" stroke-linejoin="round"/>
<path d="M235.6 1163.35L240.25 1168L235.6 1172.65L230.95 1168Z" fill="none" stroke="#000" stroke-width="1.6" stroke-linejoin="round"/>
<path d="M221.6 1228.95L226.25 1233.6L221.6 1238.25L216.95 1233.6Z" fill="none" stroke="#000" stroke-width="1.6" stroke-linejoin="round"/>
<path d="M270.4 1399.75L275.05 1404.4L270.4 1409.05L265.75 1404.4Z" fill="none" stroke="#000" stroke-width="1.6" stroke-linejoin="round"/>
<path d="M304.4 1399.75L309.05 1404.4L304.4 1409.05L299.75 1404.4Z" fill="none" stroke="#000" stroke-width="1.6" stroke-linejoin="round"/>
<path d="M287 1408.95L291.65 1413.6L287 1418.25L282.35 1413.6Z" fill="none" stroke="#000" stroke-width="1.6" stroke-linejoin="round"/>
<path d="M343.6 1140.35L348.25 1145L343.6 1149.65L338.95 1145Z" fill="none" stroke="#000" stroke-width="1.6" stroke-linejoin="round"/>
<path d="M384.4 1176.35L389.05 1181L384.4 1185.65L379.75 1181Z" fill="none" stroke="#000" stroke-width="1.6" stroke-linejoin="round"/>
<path d="M375.4 1210.35L380.05 1215L375.4 1219.65L370.75 1215Z" fill="none" stroke="#000" stroke-width="1.6" stroke-linejoin="round"/>
<path d="M407 1394.35L411.65 1399L407 1403.65L402.35 1399Z" fill="none" stroke="#000" stroke-width="1.6" stroke-linejoin="round"/>
<path d="M407 1398.95L411.65 1403.6L407 1408.25L402.35 1403.6Z" fill="none" stroke="#000" stroke-width="1.6" stroke-linejoin="round"/>
<path d="M407 1403.95L411.65 1408.6L407 1413.25L402.35 1408.6Z" fill="none" stroke="#000" stroke-width="1.6" stroke-linejoin="round"/>
<path d="M467.4 1408.75L472.05 1413.4L467.4 1418.05L462.75 1413.4Z" fill="none" stroke="#000" stroke-width="1.6" stroke-linejoin="round"/>
<path d="M486 1408.75L490.65 1413.4L486 1418.05L481.35 1413.4Z" fill="none" stroke="#000" stroke-width="1.6" stroke-linejoin="round"/>
<path d="M501.4 1408.75L506.05 1413.4L501.4 1418.05L496.75 1413.4Z" fill="none" stroke="#000" stroke-width="1.6" stroke-linejoin="round"/>
<path d="M532 1413.95L536.65 1418.6L532 1423.25L527.35 1418.6Z" fill="none" stroke="#000" stroke-width="1.6" stroke-linejoin="round"/>
<path d="M541.4 1413.95L546.05 1418.6L541.4 1423.25L536.75 1418.6Z" fill="none" stroke="#000" stroke-width="1.6" stroke-linejoin="round"/>
<path d="M568 1413.95L572.65 1418.6L568 1423.25L563.35 1418.6Z" fill="none" stroke="#000" stroke-width="1.6" stroke-linejoin="round"/>
<path d="M631.4 1295.35L636.05 1300L631.4 1304.65L626.75 1300Z" fill="none" stroke="#000" stroke-width="1.6" stroke-linejoin="round"/>
<path d="M598 1309.35L602.65 1314L598 1318.65L593.35 1314Z" fill="none" stroke="#000" stroke-width="1.6" stroke-linejoin="round"/>
<path d="M598 1325.95L602.65 1330.6L598 1335.25L593.35 1330.6Z" fill="none" stroke="#000" stroke-width="1.6" stroke-linejoin="round"/>
<path d="M694 1390.95L698.65 1395.6L694 1400.25L689.35 1395.6Z" fill="none" stroke="#000" stroke-width="1.6" stroke-linejoin="round"/>
<path d="M671.6 1395.35L676.25 1400L671.6 1404.65L666.95 1400Z" fill="none" stroke="#000" stroke-width="1.6" stroke-linejoin="round"/>
<path d="M658.4 1404.35L663.05 1409L658.4 1413.65L653.75 1409Z" fill="none" stroke="#000" stroke-width="1.6" stroke-linejoin="round"/>
<text x="229.4" y="1143.5" font-size="25" text-anchor="middle" fill="#4a4a4a" stroke="#4a4a4a" stroke-width="0.2">a</text>
<text x="359.6" y="1133.9" font-size="25" text-anchor="middle" fill="#4a4a4a" stroke="#4a4a4a" stroke-width="0.2">a</text>
<text x="288.6" y="1384.9" font-size="25" text-anchor="middle" fill="#4a4a4a" stroke="#4a4a4a" stroke-width="0.2">c</text>
<text x="418.4" y="1382.9" font-size="25" text-anchor="middle" fill="#4a4a4a" stroke="#4a4a4a" stroke-width="0.2">c</text>
<text x="490" y="1390.5" font-size="25" text-anchor="middle" fill="#4a4a4a" stroke="#4a4a4a" stroke-width="0.2">c</text>
<text x="548.6" y="1394.5" font-size="25" text-anchor="middle" fill="#4a4a4a" stroke="#4a4a4a" stroke-width="0.2">c</text>
<text x="619.6" y="1275.9" font-size="25" text-anchor="middle" fill="#4a4a4a" stroke="#4a4a4a" stroke-width="0.2">b</text>
<text x="678.4" y="1380.9" font-size="25" text-anchor="middle" fill="#4a4a4a" stroke="#4a4a4a" stroke-width="0.2">c</text>
<text y="1114.6" font-size="15.4" fill="#5c5c5c"><tspan x="212.18" font-style="italic">p</tspan><tspan x="224.45">=</tspan>
<tspan x="237.7" textLength="74.83" lengthAdjust="spacing">0.0000001</tspan></text>
<text y="1104.4" font-size="15.4" fill="#5c5c5c"><tspan x="336.58" font-style="italic">p</tspan><tspan x="348.85">=</tspan>
<tspan x="362.1" textLength="74.63" lengthAdjust="spacing">0.0000001</tspan></text>
<text y="1358.6" font-size="15.4" fill="#5c5c5c"><tspan x="486.58" font-style="italic">p</tspan><tspan x="498.85">=</tspan>
<tspan x="512.1" textLength="39.03" lengthAdjust="spacing">0.999</tspan></text>
<text y="1241" font-size="15.4" fill="#5c5c5c"><tspan x="603.58" font-style="italic">p</tspan><tspan x="615.85">=</tspan>
<tspan x="629.1" textLength="64.48" lengthAdjust="spacing">0.000007</tspan></text>
<line x1="231.6" y1="1120" x2="285.4" y2="1120" stroke="#000" stroke-width="2.6"/>
<line x1="362" y1="1108.4" x2="416" y2="1108.4" stroke="#000" stroke-width="2.6"/>
<line x1="493.6" y1="1363.6" x2="547.6" y2="1363.6" stroke="#000" stroke-width="2.6"/>
<line x1="621.6" y1="1249.4" x2="676" y2="1249.4" stroke="#000" stroke-width="2.6"/>
<rect x="182" y="822.85" width="544" height="647.05" fill="none" stroke="#000" stroke-width="2.2"/>
<line x1="174" y1="852.4" x2="182" y2="852.4" stroke="#000" stroke-width="2.7"/>
<line x1="174" y1="992.6" x2="182" y2="992.6" stroke="#000" stroke-width="2.7"/>
<line x1="174" y1="1132.7" x2="182" y2="1132.7" stroke="#000" stroke-width="2.7"/>
<line x1="174" y1="1272.9" x2="182" y2="1272.9" stroke="#000" stroke-width="2.7"/>
<line x1="174" y1="1413" x2="182" y2="1413" stroke="#000" stroke-width="2.7"/>
<line x1="259.4" y1="1469.9" x2="259.4" y2="1477.9" stroke="#000" stroke-width="2.7"/>
<line x1="389" y1="1469.9" x2="389" y2="1477.9" stroke="#000" stroke-width="2.7"/>
<line x1="518.7" y1="1469.9" x2="518.7" y2="1477.9" stroke="#000" stroke-width="2.7"/>
<line x1="648.3" y1="1469.9" x2="648.3" y2="1477.9" stroke="#000" stroke-width="2.7"/>
<text x="191.4" y="852.4" font-size="29" stroke="#000" stroke-width="0.45">Compound added</text>
<rect x="191.1" y="893.9" width="10.7" height="2.6" fill="#555"/>
<rect x="192.1" y="872" width="8.7" height="21" fill="#e8e7ee" stroke="#000" stroke-width="2"/>
<rect x="192.1" y="897.4" width="8.7" height="21.4" fill="#808183" stroke="#000" stroke-width="2"/>
<text x="215.8" y="891.9" font-size="26" stroke="#000" stroke-width="0.45">None</text>
<text x="218.75" y="916.5" font-size="26" stroke="#000" stroke-width="0.45">EIPA</text>
<text transform="translate(224.76 1504.3) scale(1 1.04)" font-size="26.7" stroke="#000" stroke-width="0.45">BG</text>
<text transform="translate(264.25 1504.3) scale(1 1.04)" font-size="26.7" stroke="#000" stroke-width="0.45">1</text>
<path d="M265.55 1506.1h5.11v-5.27h-5.11zM273.62 1506.1h5.21v-5.27h-5.21z" fill="#fff"/>
<text transform="translate(279.1 1504.3) scale(1 1.04)" font-size="26.7" stroke="#000" stroke-width="0.45">1</text>
<path d="M280.4 1506.1h5.11v-5.27h-5.11zM288.47 1506.1h5.21v-5.27h-5.21z" fill="#fff"/>
<text transform="translate(314.1 1503.5) scale(1 1.04)" font-size="26.7" stroke="#000" stroke-width="0.45">BG</text>
<text transform="translate(353.58 1503.5) scale(1 1.04)" font-size="26.7" stroke="#000" stroke-width="0.45">1</text>
<path d="M354.89 1505.3h5.11v-5.27h-5.11zM362.96 1505.3h5.21v-5.27h-5.21z" fill="#fff"/>
<text transform="translate(368.43 1503.5) scale(1 1.04)" font-size="26.7" stroke="#000" stroke-width="0.45">1</text>
<path d="M369.74 1505.3h5.11v-5.27h-5.11zM377.81 1505.3h5.21v-5.27h-5.21z" fill="#fff"/>
<path d="M392.52 1481.7A16.28 16.28 0 0 0 392.52 1510.1A21.82 21.82 0 0 1 392.52 1481.7Z" stroke="#000" stroke-width="0.5" stroke-linejoin="round"/>
<text transform="translate(393.2 1503.5) scale(1 1.04)" font-size="26.7" stroke="#000" stroke-width="0.45">NaCl</text>
<path d="M453.4 1481.7A16.28 16.28 0 0 1 453.4 1510.1A21.82 21.82 0 0 0 453.4 1481.7Z" stroke="#000" stroke-width="0.5" stroke-linejoin="round"/>
<text transform="translate(479.7 1502.4) scale(1 1.04)" font-size="26.7" stroke="#000" stroke-width="0.45">BG</text>
<text transform="translate(519.18 1502.4) scale(1 1.04)" font-size="26.7" stroke="#000" stroke-width="0.45">1</text>
<path d="M520.49 1504.2h5.11v-5.27h-5.11zM528.56 1504.2h5.21v-5.27h-5.21z" fill="#fff"/>
<text transform="translate(534.03 1502.4) scale(1 1.04)" font-size="26.7" stroke="#000" stroke-width="0.45">1</text>
<path d="M535.34 1504.2h5.11v-5.27h-5.11zM543.41 1504.2h5.21v-5.27h-5.21z" fill="#fff"/>
<text transform="translate(547.7 1507.4) scale(1 1.04)" font-size="19" stroke="#000" stroke-width="0.45">0</text>
<text transform="translate(568.9 1503.5) scale(1 1.04)" font-size="26.7" stroke="#000" stroke-width="0.45">BG</text>
<text transform="translate(608.38 1503.5) scale(1 1.04)" font-size="26.7" stroke="#000" stroke-width="0.45">1</text>
<path d="M609.69 1505.3h5.11v-5.27h-5.11zM617.76 1505.3h5.21v-5.27h-5.21z" fill="#fff"/>
<text transform="translate(623.23 1503.5) scale(1 1.04)" font-size="26.7" stroke="#000" stroke-width="0.45">1</text>
<path d="M624.54 1505.3h5.11v-5.27h-5.11zM632.61 1505.3h5.21v-5.27h-5.21z" fill="#fff"/>
<text transform="translate(637.3 1508.5) scale(1 1.04)" font-size="19" stroke="#000" stroke-width="0.45">0</text>
<path d="M658.02 1481.7A16.28 16.28 0 0 0 658.02 1510.1A21.82 21.82 0 0 1 658.02 1481.7Z" stroke="#000" stroke-width="0.5" stroke-linejoin="round"/>
<text transform="translate(658.7 1503.5) scale(1 1.04)" font-size="26.7" stroke="#000" stroke-width="0.45">NaCl</text>
<path d="M718.9 1481.7A16.28 16.28 0 0 1 718.9 1510.1A21.82 21.82 0 0 0 718.9 1481.7Z" stroke="#000" stroke-width="0.5" stroke-linejoin="round"/>
</g>
<g>
<text transform="translate(783.9 787.1) scale(0.96 1)" font-size="38.3" font-weight="bold" stroke="#000" stroke-width="0.25">d</text>
<g transform="translate(804 1382.4) rotate(-90) scale(1.01)">
<text transform="translate(0 0) scale(1 1.05)" font-size="35.5" stroke="#000" stroke-width="0.45">I</text>
<text x="9.86" y="0" font-size="35.5" stroke="#000" stroke-width="0.45">ncrease in cell number</text>
<path d="M390.59 -29.9A21.89 21.89 0 0 0 390.59 8.3A29.34 29.34 0 0 1 390.59 -29.9Z" stroke="#000" stroke-width="0.5" stroke-linejoin="round"/>
<text x="391.4" y="0" font-size="35.5" stroke="#000" stroke-width="0.45">m</text>
<text transform="translate(422 0) scale(1 1.05)" font-size="35.5" stroke="#000" stroke-width="0.45">L</text>
<text x="441" y="-15.8" font-size="25" stroke="#000" stroke-width="0.45">−</text>
<text x="455.27" y="-17.6" font-size="25.5" stroke="#000" stroke-width="0.45">1</text>
<path d="M456.51 -15.8h4.87v-5.11h-4.87zM464.23 -15.8h4.98v-5.11h-4.98z" fill="#fff"/>
<path d="M470.5 -29.9A21.89 21.89 0 0 1 470.5 8.3A29.34 29.34 0 0 0 470.5 -29.9Z" stroke="#000" stroke-width="0.5" stroke-linejoin="round"/>
</g>
<text transform="translate(847.8 860.4) scale(1 1.035)" font-size="32" stroke="#000" stroke-width="0.45">2</text>
<path d="M871.9 844.5L886.9 859.5M871.9 859.5L886.9 844.5" stroke="#000" stroke-width="1.9" fill="none"/>
<text transform="translate(894.39 860.4) scale(1 1.035)" font-size="32" stroke="#000" stroke-width="0.45">1</text>
<path d="M895.95 862.2h6.18v-5.67h-6.18zM905.56 862.2h6.25v-5.67h-6.25z" fill="#fff"/>
<text transform="translate(911.1 860.4) scale(1 1.035)" font-size="32" stroke="#000" stroke-width="0.45">0</text>
<text transform="translate(940.8 845.2) scale(1 1.035)" font-size="21.8" text-anchor="end" stroke="#000" stroke-width="0.45">8</text>
<text transform="translate(822.2 1008.15) scale(1 1.035)" font-size="32" stroke="#000" stroke-width="0.45">1</text>
<path d="M823.77 1009.95h6.18v-5.67h-6.18zM833.38 1009.95h6.25v-5.67h-6.25z" fill="#fff"/>
<text transform="translate(838.91 1008.15) scale(1 1.035)" font-size="32" stroke="#000" stroke-width="0.45">.5</text>
<path d="M871.9 992.25L886.9 1007.25M871.9 1007.25L886.9 992.25" stroke="#000" stroke-width="1.9" fill="none"/>
<text transform="translate(894.39 1008.15) scale(1 1.035)" font-size="32" stroke="#000" stroke-width="0.45">1</text>
<path d="M895.95 1009.95h6.18v-5.67h-6.18zM905.56 1009.95h6.25v-5.67h-6.25z" fill="#fff"/>
<text transform="translate(911.1 1008.15) scale(1 1.035)" font-size="32" stroke="#000" stroke-width="0.45">0</text>
<text transform="translate(940.8 992.95) scale(1 1.035)" font-size="21.8" text-anchor="end" stroke="#000" stroke-width="0.45">8</text>
<text transform="translate(848.89 1155.9) scale(1 1.035)" font-size="32" stroke="#000" stroke-width="0.45">1</text>
<path d="M850.45 1157.7h6.18v-5.67h-6.18zM860.07 1157.7h6.25v-5.67h-6.25z" fill="#fff"/>
<path d="M871.9 1140L886.9 1155M871.9 1155L886.9 1140" stroke="#000" stroke-width="1.9" fill="none"/>
<text transform="translate(894.39 1155.9) scale(1 1.035)" font-size="32" stroke="#000" stroke-width="0.45">1</text>
<path d="M895.95 1157.7h6.18v-5.67h-6.18zM905.56 1157.7h6.25v-5.67h-6.25z" fill="#fff"/>
<text transform="translate(911.1 1155.9) scale(1 1.035)" font-size="32" stroke="#000" stroke-width="0.45">0</text>
<text transform="translate(940.8 1140.7) scale(1 1.035)" font-size="21.8" text-anchor="end" stroke="#000" stroke-width="0.45">8</text>
<text transform="translate(847.8 1303.65) scale(1 1.035)" font-size="32" stroke="#000" stroke-width="0.45">5</text>
<path d="M871.9 1287.75L886.9 1302.75M871.9 1302.75L886.9 1287.75" stroke="#000" stroke-width="1.9" fill="none"/>
<text transform="translate(894.39 1303.65) scale(1 1.035)" font-size="32" stroke="#000" stroke-width="0.45">1</text>
<path d="M895.95 1305.45h6.18v-5.67h-6.18zM905.56 1305.45h6.25v-5.67h-6.25z" fill="#fff"/>
<text transform="translate(911.1 1303.65) scale(1 1.035)" font-size="32" stroke="#000" stroke-width="0.45">0</text>
<text transform="translate(940.8 1288.45) scale(1 1.035)" font-size="21.8" text-anchor="end" stroke="#000" stroke-width="0.45">7</text>
<text transform="translate(941.2 1447.6) scale(1 1.035)" font-size="32" text-anchor="end" stroke="#000" stroke-width="0.45">0</text>
<rect x="970.5" y="1202" width="58.7" height="234" fill="#e8e7ee" stroke="#000" stroke-width="2.2"/>
<rect x="1029.2" y="1434.4" width="58.8" height="1.6" fill="#808183" stroke="#000" stroke-width="2.2"/>
<rect x="1101" y="1196" width="58.8" height="240" fill="#e8e7ee" stroke="#000" stroke-width="2.2"/>
<rect x="1159.8" y="1434.4" width="58.8" height="1.6" fill="#808183" stroke="#000" stroke-width="2.2"/>
<rect x="1362.2" y="1350" width="58.75" height="86" fill="#e8e7ee" stroke="#000" stroke-width="2.2"/>
<line x1="1231" y1="1436" x2="1350" y2="1436" stroke="#000" stroke-width="2"/>
<line x1="1421" y1="1435.6" x2="1481.6" y2="1435.6" stroke="#000" stroke-width="2.6"/>
<path d="M991 1188H1007M991 1216H1007M999 1188V1216" fill="none" stroke="#000" stroke-width="2.2"/>
<path d="M1122 1178.4H1138M1122 1214.4H1138M1130 1178.4V1214.4" fill="none" stroke="#000" stroke-width="2.2"/>
<path d="M1384 1338H1400M1384 1361H1400M1392 1338V1361" fill="none" stroke="#000" stroke-width="2.2"/>
<path d="M1015.2 1177.75L1019.85 1182.4L1015.2 1187.05L1010.55 1182.4Z" fill="none" stroke="#000" stroke-width="1.6" stroke-linejoin="round"/>
<path d="M1003.6 1196.95L1008.25 1201.6L1003.6 1206.25L998.95 1201.6Z" fill="none" stroke="#000" stroke-width="1.6" stroke-linejoin="round"/>
<path d="M1026.6 1219.95L1031.25 1224.6L1026.6 1229.25L1021.95 1224.6Z" fill="none" stroke="#000" stroke-width="1.6" stroke-linejoin="round"/>
<path d="M1044 1428.35L1048.65 1433L1044 1437.65L1039.35 1433Z" fill="none" stroke="#000" stroke-width="1.6" stroke-linejoin="round"/>
<path d="M1063.6 1429.35L1068.25 1434L1063.6 1438.65L1058.95 1434Z" fill="none" stroke="#000" stroke-width="1.6" stroke-linejoin="round"/>
<path d="M1072 1428.35L1076.65 1433L1072 1437.65L1067.35 1433Z" fill="none" stroke="#000" stroke-width="1.6" stroke-linejoin="round"/>
<path d="M1104.6 1161.95L1109.25 1166.6L1104.6 1171.25L1099.95 1166.6Z" fill="none" stroke="#000" stroke-width="1.6" stroke-linejoin="round"/>
<path d="M1101 1183.35L1105.65 1188L1101 1192.65L1096.35 1188Z" fill="none" stroke="#000" stroke-width="1.6" stroke-linejoin="round"/>
<path d="M1139.4 1220.35L1144.05 1225L1139.4 1229.65L1134.75 1225Z" fill="none" stroke="#000" stroke-width="1.6" stroke-linejoin="round"/>
<path d="M1179.4 1426.95L1184.05 1431.6L1179.4 1436.25L1174.75 1431.6Z" fill="none" stroke="#000" stroke-width="1.6" stroke-linejoin="round"/>
<path d="M1184 1428.95L1188.65 1433.6L1184 1438.25L1179.35 1433.6Z" fill="none" stroke="#000" stroke-width="1.6" stroke-linejoin="round"/>
<path d="M1201.6 1428.95L1206.25 1433.6L1201.6 1438.25L1196.95 1433.6Z" fill="none" stroke="#000" stroke-width="1.6" stroke-linejoin="round"/>
<path d="M1244 1430.35L1248.65 1435L1244 1439.65L1239.35 1435Z" fill="none" stroke="#000" stroke-width="1.6" stroke-linejoin="round"/>
<path d="M1261.6 1428.35L1266.25 1433L1261.6 1437.65L1256.95 1433Z" fill="none" stroke="#000" stroke-width="1.6" stroke-linejoin="round"/>
<path d="M1268.6 1432.35L1273.25 1437L1268.6 1441.65L1263.95 1437Z" fill="none" stroke="#000" stroke-width="1.6" stroke-linejoin="round"/>
<path d="M1305 1429.75L1309.65 1434.4L1305 1439.05L1300.35 1434.4Z" fill="none" stroke="#000" stroke-width="1.6" stroke-linejoin="round"/>
<path d="M1307.4 1431.35L1312.05 1436L1307.4 1440.65L1302.75 1436Z" fill="none" stroke="#000" stroke-width="1.6" stroke-linejoin="round"/>
<path d="M1325.6 1430.95L1330.25 1435.6L1325.6 1440.25L1320.95 1435.6Z" fill="none" stroke="#000" stroke-width="1.6" stroke-linejoin="round"/>
<path d="M1381.6 1323.75L1386.25 1328.4L1381.6 1333.05L1376.95 1328.4Z" fill="none" stroke="#000" stroke-width="1.6" stroke-linejoin="round"/>
<path d="M1361 1343.35L1365.65 1348L1361 1352.65L1356.35 1348Z" fill="none" stroke="#000" stroke-width="1.6" stroke-linejoin="round"/>
<path d="M1406.6 1363.95L1411.25 1368.6L1406.6 1373.25L1401.95 1368.6Z" fill="none" stroke="#000" stroke-width="1.6" stroke-linejoin="round"/>
<path d="M1442 1431.35L1446.65 1436L1442 1440.65L1437.35 1436Z" fill="none" stroke="#000" stroke-width="1.6" stroke-linejoin="round"/>
<path d="M1469.4 1431.35L1474.05 1436L1469.4 1440.65L1464.75 1436Z" fill="none" stroke="#000" stroke-width="1.6" stroke-linejoin="round"/>
<path d="M1473 1431.35L1477.65 1436L1473 1440.65L1468.35 1436Z" fill="none" stroke="#000" stroke-width="1.6" stroke-linejoin="round"/>
<text x="998.6" y="1160.3" font-size="25" text-anchor="middle" fill="#4a4a4a" stroke="#4a4a4a" stroke-width="0.2">a</text>
<text x="1058.6" y="1403.9" font-size="25" text-anchor="middle" fill="#4a4a4a" stroke="#4a4a4a" stroke-width="0.2">c</text>
<text x="1129.6" y="1143.5" font-size="25" text-anchor="middle" fill="#4a4a4a" stroke="#4a4a4a" stroke-width="0.2">a</text>
<text x="1189" y="1397.9" font-size="25" text-anchor="middle" fill="#4a4a4a" stroke="#4a4a4a" stroke-width="0.2">c</text>
<text x="1261.4" y="1400.5" font-size="25" text-anchor="middle" fill="#4a4a4a" stroke="#4a4a4a" stroke-width="0.2">c</text>
<text x="1320" y="1400.5" font-size="25" text-anchor="middle" fill="#4a4a4a" stroke="#4a4a4a" stroke-width="0.2">c</text>
<text x="1392" y="1302.5" font-size="25" text-anchor="middle" fill="#4a4a4a" stroke="#4a4a4a" stroke-width="0.2">b</text>
<text x="1451" y="1398.9" font-size="25" text-anchor="middle" fill="#4a4a4a" stroke="#4a4a4a" stroke-width="0.2">c</text>
<text y="1137" font-size="16.17" fill="#5c5c5c"><tspan x="978.2" font-style="italic">p</tspan><tspan x="991.09">=</tspan>
<tspan x="1005" textLength="78.29" lengthAdjust="spacing">0.0000001</tspan></text>
<text y="1114.4" font-size="16.17" fill="#5c5c5c"><tspan x="1110.2" font-style="italic">p</tspan><tspan x="1123.09">=</tspan>
<tspan x="1137" textLength="78.29" lengthAdjust="spacing">0.0000001</tspan></text>
<text y="1363" font-size="16.17" fill="#5c5c5c"><tspan x="1277.6" font-style="italic">p</tspan><tspan x="1290.49">=</tspan>
<tspan x="1306.3">1</tspan></text>
<text y="1271.4" font-size="16.17" fill="#5c5c5c"><tspan x="1373" font-style="italic">p</tspan><tspan x="1385.89">=</tspan>
<tspan x="1399.8" textLength="78.49" lengthAdjust="spacing">0.0000001</tspan></text>
<line x1="1000.6" y1="1141" x2="1057" y2="1141" stroke="#000" stroke-width="2.6"/>
<line x1="1132.6" y1="1120" x2="1189.4" y2="1120" stroke="#000" stroke-width="2.6"/>
<line x1="1263" y1="1370" x2="1320.6" y2="1370" stroke="#000" stroke-width="3.4"/>
<line x1="1395" y1="1277.4" x2="1451" y2="1277.4" stroke="#000" stroke-width="2.6"/>
<rect x="950.9" y="815.95" width="548.4" height="651.95" fill="none" stroke="#000" stroke-width="2.2"/>
<line x1="942.9" y1="845" x2="950.9" y2="845" stroke="#000" stroke-width="2.7"/>
<line x1="942.9" y1="992.75" x2="950.9" y2="992.75" stroke="#000" stroke-width="2.7"/>
<line x1="942.9" y1="1140.5" x2="950.9" y2="1140.5" stroke="#000" stroke-width="2.7"/>
<line x1="942.9" y1="1288.25" x2="950.9" y2="1288.25" stroke="#000" stroke-width="2.7"/>
<line x1="942.9" y1="1436" x2="950.9" y2="1436" stroke="#000" stroke-width="2.7"/>
<line x1="1029.2" y1="1467.9" x2="1029.2" y2="1475.9" stroke="#000" stroke-width="2.7"/>
<line x1="1159.8" y1="1467.9" x2="1159.8" y2="1475.9" stroke="#000" stroke-width="2.7"/>
<line x1="1290.4" y1="1467.9" x2="1290.4" y2="1475.9" stroke="#000" stroke-width="2.7"/>
<line x1="1420.95" y1="1467.9" x2="1420.95" y2="1475.9" stroke="#000" stroke-width="2.7"/>
<text x="960" y="846.2" font-size="29.26" stroke="#000" stroke-width="0.45">Compound added</text>
<rect x="960.7" y="865.4" width="8.7" height="20.5" fill="#e8e7ee" stroke="#000" stroke-width="2"/>
<rect x="960.7" y="889.7" width="8.7" height="23.1" fill="#808183" stroke="#000" stroke-width="2"/>
<text x="984.9" y="885.2" font-size="26.23" stroke="#000" stroke-width="0.45">None</text>
<text x="984.9" y="910.3" font-size="26.23" stroke="#000" stroke-width="0.45">DCCD</text>
<text transform="translate(994.16 1504.3) scale(1 1.04)" font-size="26.7" stroke="#000" stroke-width="0.45">BG</text>
<text transform="translate(1033.65 1504.3) scale(1 1.04)" font-size="26.7" stroke="#000" stroke-width="0.45">1</text>
<path d="M1034.95 1506.1h5.11v-5.27h-5.11zM1043.02 1506.1h5.21v-5.27h-5.21z" fill="#fff"/>
<text transform="translate(1048.5 1504.3) scale(1 1.04)" font-size="26.7" stroke="#000" stroke-width="0.45">1</text>
<path d="M1049.8 1506.1h5.11v-5.27h-5.11zM1057.87 1506.1h5.21v-5.27h-5.21z" fill="#fff"/>
<text transform="translate(1084 1503.5) scale(1 1.04)" font-size="26.7" stroke="#000" stroke-width="0.45">BG</text>
<text transform="translate(1123.48 1503.5) scale(1 1.04)" font-size="26.7" stroke="#000" stroke-width="0.45">1</text>
<path d="M1124.79 1505.3h5.11v-5.27h-5.11zM1132.86 1505.3h5.21v-5.27h-5.21z" fill="#fff"/>
<text transform="translate(1138.33 1503.5) scale(1 1.04)" font-size="26.7" stroke="#000" stroke-width="0.45">1</text>
<path d="M1139.64 1505.3h5.11v-5.27h-5.11zM1147.71 1505.3h5.21v-5.27h-5.21z" fill="#fff"/>
<path d="M1162.42 1481.7A16.28 16.28 0 0 0 1162.42 1510.1A21.82 21.82 0 0 1 1162.42 1481.7Z" stroke="#000" stroke-width="0.5" stroke-linejoin="round"/>
<text transform="translate(1163.1 1503.5) scale(1 1.04)" font-size="26.7" stroke="#000" stroke-width="0.45">NaCl</text>
<path d="M1223.3 1481.7A16.28 16.28 0 0 1 1223.3 1510.1A21.82 21.82 0 0 0 1223.3 1481.7Z" stroke="#000" stroke-width="0.5" stroke-linejoin="round"/>
<text transform="translate(1250.4 1502.4) scale(1 1.04)" font-size="26.7" stroke="#000" stroke-width="0.45">BG</text>
<text transform="translate(1289.88 1502.4) scale(1 1.04)" font-size="26.7" stroke="#000" stroke-width="0.45">1</text>
<path d="M1291.19 1504.2h5.11v-5.27h-5.11zM1299.26 1504.2h5.21v-5.27h-5.21z" fill="#fff"/>
<text transform="translate(1304.73 1502.4) scale(1 1.04)" font-size="26.7" stroke="#000" stroke-width="0.45">1</text>
<path d="M1306.04 1504.2h5.11v-5.27h-5.11zM1314.11 1504.2h5.21v-5.27h-5.21z" fill="#fff"/>
<text transform="translate(1318.4 1507.4) scale(1 1.04)" font-size="19" stroke="#000" stroke-width="0.45">0</text>
<text transform="translate(1340.4 1503.5) scale(1 1.04)" font-size="26.7" stroke="#000" stroke-width="0.45">BG</text>
<text transform="translate(1379.88 1503.5) scale(1 1.04)" font-size="26.7" stroke="#000" stroke-width="0.45">1</text>
<path d="M1381.19 1505.3h5.11v-5.27h-5.11zM1389.26 1505.3h5.21v-5.27h-5.21z" fill="#fff"/>
<text transform="translate(1394.73 1503.5) scale(1 1.04)" font-size="26.7" stroke="#000" stroke-width="0.45">1</text>
<path d="M1396.04 1505.3h5.11v-5.27h-5.11zM1404.11 1505.3h5.21v-5.27h-5.21z" fill="#fff"/>
<text transform="translate(1408.8 1508.5) scale(1 1.04)" font-size="19" stroke="#000" stroke-width="0.45">0</text>
<path d="M1429.52 1481.7A16.28 16.28 0 0 0 1429.52 1510.1A21.82 21.82 0 0 1 1429.52 1481.7Z" stroke="#000" stroke-width="0.5" stroke-linejoin="round"/>
<text transform="translate(1430.2 1503.5) scale(1 1.04)" font-size="26.7" stroke="#000" stroke-width="0.45">NaCl</text>
<path d="M1490.4 1481.7A16.28 16.28 0 0 1 1490.4 1510.1A21.82 21.82 0 0 0 1490.4 1481.7Z" stroke="#000" stroke-width="0.5" stroke-linejoin="round"/>
</g>
</svg></body></html>
